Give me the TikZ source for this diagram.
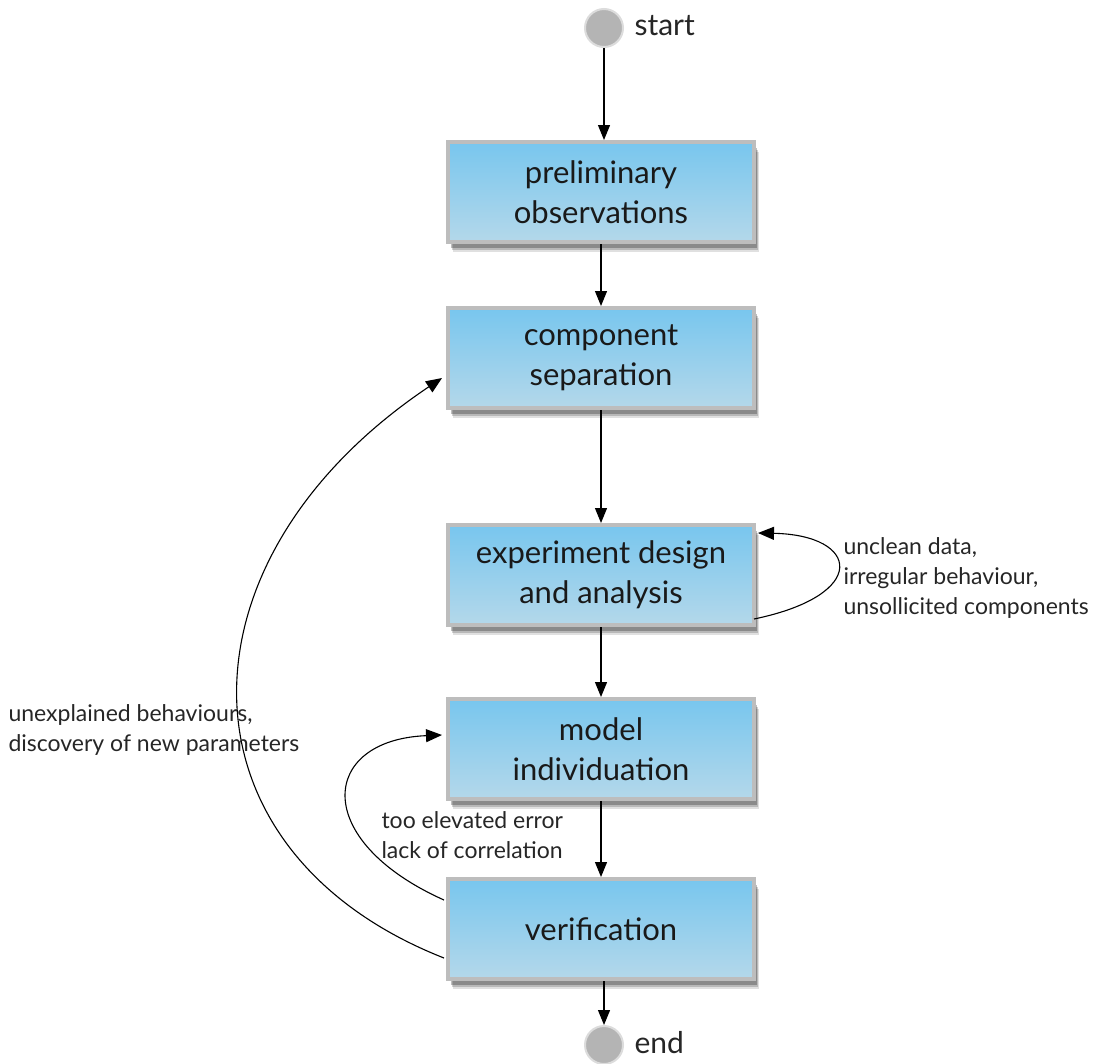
\documentclass[tikz,border=0pt]{standalone}
\usepackage{fontspec}
\setmainfont{Lato}
\usetikzlibrary{arrows.meta,shadows,calc}
\definecolor{boxtop}{HTML}{78C6EE}
\definecolor{boxbot}{HTML}{B4D8EA}
\definecolor{boxline}{HTML}{BDBDBD}
\definecolor{dotfill}{HTML}{B4B4B4}
\definecolor{dotline}{HTML}{DCDCDC}
\tikzset{
  stepbox/.style={rectangle, minimum width=306pt, minimum height=100pt,
    draw=boxline, line width=4pt, top color=boxtop, bottom color=boxbot,
    align=center, font=\fontsize{31}{40}\selectfont, text=black!90,
    drop shadow={shadow xshift=5pt, shadow yshift=-10pt, opacity=0.12, fill=black},
    drop shadow={shadow xshift=4pt, shadow yshift=-8pt, opacity=0.18, fill=black},
    drop shadow={shadow xshift=3pt, shadow yshift=-6pt, opacity=0.25, fill=black}},
  dot/.style={circle, minimum size=38pt, inner sep=0pt, fill=dotfill, draw=dotline, line width=2pt},
  dotlabel/.style={anchor=west, font=\fontsize{30}{30}\selectfont, text=black!85},
  note/.style={align=left, anchor=west, font=\fontsize{23}{30}\selectfont, text=black!85},
  flow/.style={line width=1.2pt, -{Triangle[length=15pt,width=12pt]}},
  loop/.style={line width=1.1pt, -{Triangle[length=16pt,width=13pt]}}
}
\begin{document}
\begin{tikzpicture}[x=1pt,y=-1pt]
\useasboundingbox (0,0) rectangle (1107,1063);
\node[dot] (start) at (604,28) {};
\node[dotlabel] (startlabel) at (631,26) {start};
\node[stepbox] (b1) at (601,192) {preliminary\\observations};
\node[stepbox] (b2) at (601,358) {component\\separation};
\node[stepbox] (b3) at (601,575) {experiment design\\and analysis};
\node[stepbox] (b4) at (601,749) {model\\individuation};
\node[stepbox] (b5) at (601,929) {verification};
\node[dot] (end) at (604,1045) {};
\node[dotlabel] (endlabel) at (631,1043) {end};

\draw[flow] (start) -- (start |- b1.north);
\draw[flow] (b1) -- (b2);
\draw[flow] (b2) -- (b3);
\draw[flow] (b3) -- (b4);
\draw[flow] (b4) -- (b5);
\draw[flow] (b5.south -| end) -- (end);

\coordinate (s3) at ($(b3.south east)+(-2,-8)$);
\coordinate (e3) at ($(b3.north east)+(2,10)$);
\draw[loop] (s3) .. controls (870,595) and (860,535) .. (e3);

\coordinate (s5a) at ($(b5.west)+(-2,29)$);
\coordinate (e2) at ($(b2.west)+(-4,20)$);
\draw[loop] (s5a) .. controls (170,850) and (170,560) .. (e2);

\coordinate (s5b) at ($(b5.west)+(-2,-29)$);
\coordinate (e4) at ($(b4.west)+(-4,-14)$);
\draw[loop] (s5b) .. controls (310,840) and (320,740) .. (e4);

\node[note] (n1) at (840,578) {unclean data,\\irregular behaviour,\\unsollicited components};
\node[note] (n2) at (5,730) {unexplained behaviours,\\discovery of new parameters};
\node[note] (n3) at (378,835) {too elevated error\\lack of correlation};
\end{tikzpicture}
\end{document}
